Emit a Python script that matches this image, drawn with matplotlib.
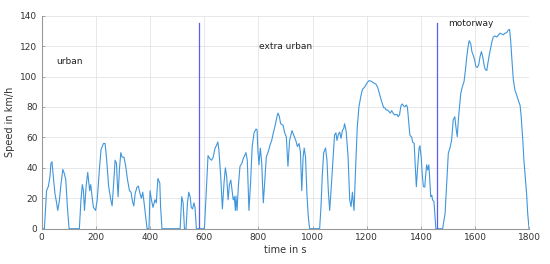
import numpy as np
import matplotlib.pyplot as plt

# speed trace (time in s, speed in km/h)
t = [0, 10, 18, 25, 31, 34, 38, 43, 49, 55, 59, 65, 71, 78, 84, 89, 95, 101,
     139, 145, 150, 154, 158, 164, 170, 173, 177, 181, 186, 191, 199, 205, 213,
     219, 228, 234, 240, 247, 255, 260, 265, 271, 276, 279, 282, 287, 292, 297,
     304, 311, 317, 324, 330, 335, 340, 345, 351, 357, 363, 368, 373, 378, 384,
     389, 396, 400, 405, 411, 418, 423, 429, 436, 439, 444, 511, 517, 522, 527,
     533, 538, 543, 548, 552, 557, 562, 566, 571,
     599, 601, 614, 621, 627, 633, 640, 646, 650, 654, 661, 667, 673, 678, 683,
     688, 693, 698, 703, 707, 711, 715, 717, 721, 726, 732, 739, 744, 750, 754,
     759, 765, 771, 777, 784, 791, 795, 798, 802, 807, 812, 818, 823, 829, 837,
     843, 849, 855, 862, 867, 872, 877, 882, 891, 897, 903, 909, 915, 924, 930,
     938, 944, 950, 955, 960, 965, 969, 974, 979, 984, 989, 1026, 1031, 1036,
     1041, 1048, 1053, 1058, 1063, 1069, 1075, 1081, 1086, 1090, 1095, 1100,
     1105, 1110, 1115, 1118, 1124, 1131, 1137, 1142, 1147, 1153, 1159, 1165,
     1171, 1178, 1184, 1192, 1200, 1208, 1216, 1224, 1234, 1240, 1245, 1251,
     1257, 1262, 1267, 1272, 1277, 1282, 1287, 1292, 1297, 1302, 1307, 1312,
     1316, 1321, 1326, 1331, 1336, 1341, 1346, 1350, 1355, 1359, 1366, 1369,
     1375, 1379, 1383, 1387, 1393, 1396, 1401, 1405, 1409, 1414, 1418, 1421,
     1425, 1429, 1432, 1436, 1440, 1443, 1448, 1452, 1455,
     1480, 1489, 1495, 1501, 1507, 1513, 1519, 1525, 1529, 1534, 1539, 1547,
     1553, 1559, 1564, 1569, 1574, 1578, 1584, 1588, 1593, 1598, 1603, 1608,
     1613, 1618, 1623, 1628, 1633, 1637, 1643, 1647, 1652, 1657, 1662, 1667,
     1673, 1680, 1686, 1692, 1698, 1704, 1710, 1717, 1722, 1727, 1731, 1735,
     1741, 1747, 1753, 1759, 1766, 1770, 1776, 1780, 1785, 1790, 1794, 1799]
v = [0, 0, 25, 28, 35, 43, 44, 34, 23, 17, 12, 18, 29, 39, 36, 32, 14, 0,
     0, 19, 29, 25, 12, 28, 37, 32, 25, 29, 21, 14, 12, 19, 39,
     52, 56, 56, 45, 28, 19, 15, 28, 45, 43, 31, 21, 39, 50, 47,
     47, 40, 32, 25, 24, 18, 15, 23, 27, 28, 23, 20, 24, 17, 8,
     0, 0, 25, 19, 14, 19, 17, 33, 30, 14, 0, 0, 21, 17, 0,
     0, 17, 24, 21, 14, 13, 17, 14, 0,
     0, 1, 48, 46, 45, 47, 53, 55, 57, 52, 34, 13, 30, 40, 34,
     19, 29, 32, 25, 19, 21, 12, 21.5, 12, 28, 41, 43, 46, 48.5, 50,
     45, 12, 30, 54, 63, 65.5, 65, 52, 42, 53, 44, 17, 30, 47, 51,
     55, 58, 63, 68, 72.5, 76, 74, 69, 68, 63, 60.5, 41, 58, 64.5, 61.6,
     58, 54, 56, 50.6, 25, 47, 53, 47, 23, 8, 0, 0, 14.5, 36,
     50, 53, 45, 25, 12, 27.6, 45, 61.6, 63, 58, 62, 63.5,
     59.4, 64.5, 66, 69, 64, 47, 19, 14.5, 24, 12, 41, 67,
     80, 87, 91.6, 93, 95.6, 97.3, 97, 96, 95, 93, 90, 86,
     82.4, 79.6, 79.5, 78, 78, 77, 76, 77.6, 76, 74.8, 75, 75,
     73.6, 75, 80.7, 82, 80.7, 80.2, 81.3, 80, 70, 61.6, 60, 57,
     56, 41, 27.6, 38.6, 53, 54.4, 47, 35, 27.6, 27.4, 36.4, 42,
     38.6, 42, 34, 21, 22, 19, 17.8, 8, 0,
     0, 10, 30, 49.6, 53, 58, 71.5, 73.6, 67, 60.5, 73.6, 89,
     93.4, 96.7, 104, 113, 119.7, 123.6, 121.4, 116.4, 114, 111, 106.5, 106,
     107.6, 113, 116.4, 113, 107.6, 104.8, 104, 108.7, 114, 118.6, 123, 126,
     126.7, 126, 127.4, 128.5, 128, 127.4, 128.5, 128.9, 130.6, 131, 124, 113,
     97.8, 91, 88, 84.6, 81, 73.6, 58, 45, 34, 23, 10, 0]

# phase borders and labels
borders = [581, 1461]
border_top = 135
phase_names = ['urban', 'extra urban', 'motorway']
phase_x = [53, 802, 1501]
phase_y = [110, 120, 135]

plt.rcParams['font.family'] = 'DejaVu Sans'
fig = plt.figure(figsize=(5.5, 2.64), dpi=100)
ax = fig.add_axes([0.0758, 0.1337, 0.8866, 0.8068])

ax.plot(t, v, color='#4096dc', lw=0.8)
for b in borders:
    ax.plot([b, b], [0, border_top], color='#5c5cf5', lw=0.9)
for name, x, y in zip(phase_names, phase_x, phase_y):
    ax.text(x, y, name, fontsize=6.5, color='#222222', va='center', ha='left')

ax.set_xlim(0, 1800)
ax.set_ylim(0, 140)
ax.set_xticks(np.arange(0, 1801, 200))
ax.set_yticks(np.arange(0, 141, 20))
ax.grid(True, color='#e4e4e4', lw=0.6)
ax.set_axisbelow(True)
for s in ['top', 'right']:
    ax.spines[s].set_visible(False)
for s in ['left', 'bottom']:
    ax.spines[s].set_color('#999999')
    ax.spines[s].set_linewidth(0.8)
ax.tick_params(direction='in', length=2.5, width=0.6, colors='#999999',
               labelcolor='#333333', labelsize=6.5, pad=3)
ax.set_xlabel('time in s', fontsize=7, color='#333333', labelpad=2)
ax.set_ylabel('Speed in km/h', fontsize=7, color='#333333', labelpad=4)

fig.savefig('out.png', dpi=100)
